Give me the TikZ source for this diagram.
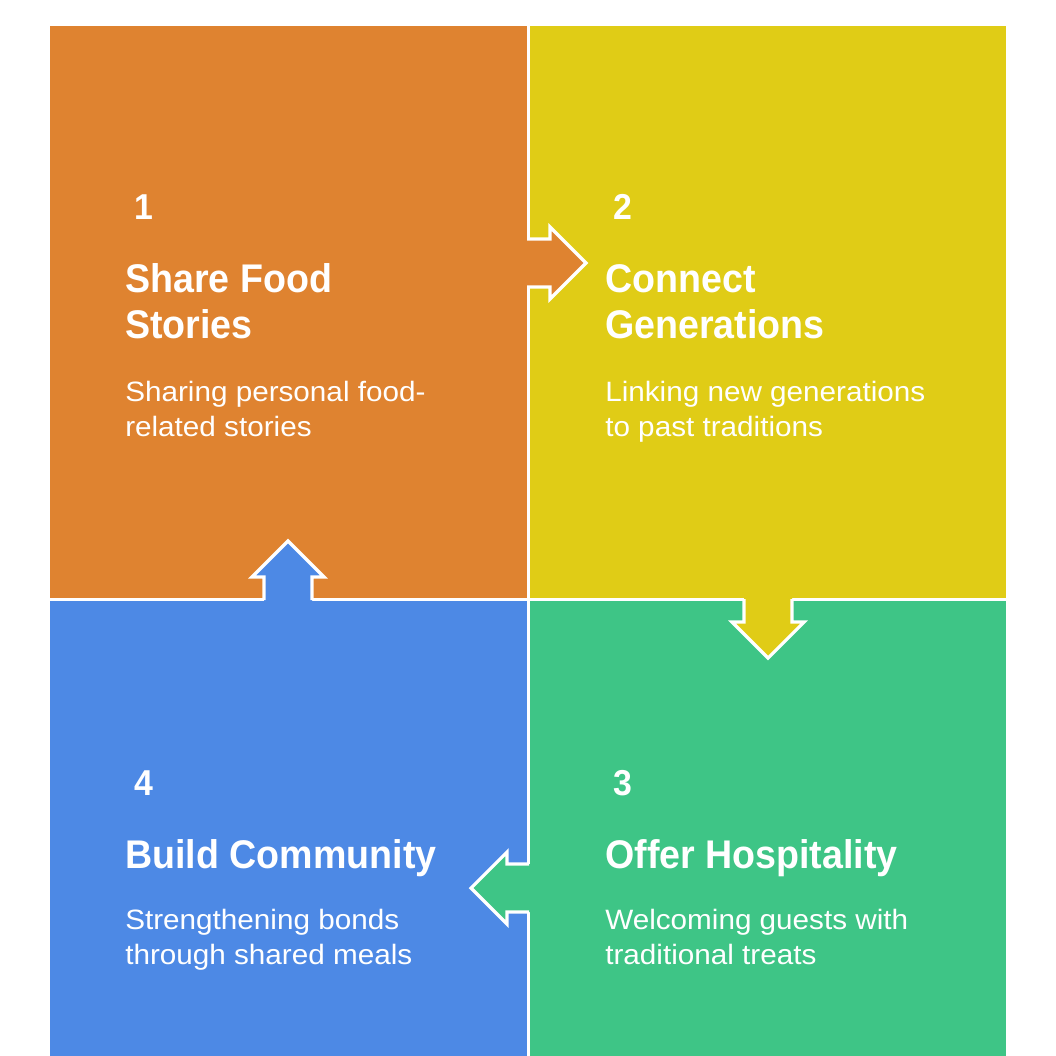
\documentclass[tikz,border=0pt]{standalone}
\usepackage{fontspec}
\setmainfont{Liberation Sans}[FakeStretch=1.06]
\newfontfamily\titlefont{Liberation Sans}[FakeStretch=0.94]
\definecolor{corange}{RGB}{223,131,48}
\definecolor{cyellow}{RGB}{224,204,22}
\definecolor{cgreen}{RGB}{62,197,134}
\definecolor{cblue}{RGB}{77,137,229}
\begin{document}
\begin{tikzpicture}[x=0.75pt,y=-0.75pt,
  numtxt/.style={anchor=base west,inner sep=0pt,text=white,font=\titlefont\bfseries\fontsize{27pt}{32pt}\selectfont},
  titletxt/.style={anchor=base west,inner sep=0pt,text=white,font=\titlefont\bfseries\fontsize{30pt}{34pt}\selectfont},
  desctxt/.style={anchor=base west,inner sep=0pt,text=white,font=\fontsize{21pt}{26pt}\selectfont},
  outline/.style={draw=white,line width=2.4pt,line join=miter}]
\useasboundingbox (0,0) rectangle (1056,1056);
\fill[white] (0,0) rectangle (1056,1056);
% tiles
\fill[corange] (50,26) rectangle (527,598);
\fill[cyellow] (530,26) rectangle (1006,598);
\fill[cgreen] (530,601) rectangle (1006,1056);
\fill[cblue] (50,601) rectangle (527,1056);
% arrow 1 -> 2 (right)
\fill[corange] (520,239) -- (550,239) -- (550,227) -- (586,263) -- (550,299) -- (550,287) -- (520,287) -- cycle;
\draw[outline] (527,239) -- (550,239) -- (550,227) -- (586,263) -- (550,299) -- (550,287) -- (527,287);
% arrow 2 -> 3 (down)
\fill[cyellow] (744,590) -- (744,622) -- (732,622) -- (768,658) -- (804,622) -- (792,622) -- (792,590) -- cycle;
\draw[outline] (744,599) -- (744,622) -- (732,622) -- (768,658) -- (804,622) -- (792,622) -- (792,599);
% arrow 3 -> 4 (left)
\fill[cgreen] (540,864) -- (507,864) -- (507,852) -- (471,888) -- (507,924) -- (507,912) -- (540,912) -- cycle;
\draw[outline] (529,864) -- (507,864) -- (507,852) -- (471,888) -- (507,924) -- (507,912) -- (529,912);
% arrow 4 -> 1 (up)
\fill[cblue] (264,610) -- (264,577) -- (252,577) -- (288,541) -- (324,577) -- (312,577) -- (312,610) -- cycle;
\draw[outline] (264,600) -- (264,577) -- (252,577) -- (288,541) -- (324,577) -- (312,577) -- (312,600);
% tile 1
\node[numtxt] (n1) at (134,219) {1};
\node[titletxt] (t1a) at (125,292) {Share Food};
\node[titletxt] (t1b) at (125,338) {Stories};
\node[desctxt] (d1a) at (125,401) {Sharing personal food-};
\node[desctxt] (d1b) at (125,436) {related stories};
% tile 2
\node[numtxt] (n2) at (613,219) {2};
\node[titletxt] (t2a) at (605,292) {Connect};
\node[titletxt] (t2b) at (605,338) {Generations};
\node[desctxt] (d2a) at (605,401) {Linking new generations};
\node[desctxt] (d2b) at (605,436) {to past traditions};
% tile 3
\node[numtxt] (n3) at (613,795) {3};
\node[titletxt] (t3a) at (605,868) {Offer Hospitality};
\node[desctxt] (d3a) at (605,929) {Welcoming guests with};
\node[desctxt] (d3b) at (605,964) {traditional treats};
% tile 4
\node[numtxt] (n4) at (134,795) {4};
\node[titletxt] (t4a) at (125,868) {Build Community};
\node[desctxt] (d4a) at (125,929) {Strengthening bonds};
\node[desctxt] (d4b) at (125,964) {through shared meals};
\end{tikzpicture}
\end{document}
